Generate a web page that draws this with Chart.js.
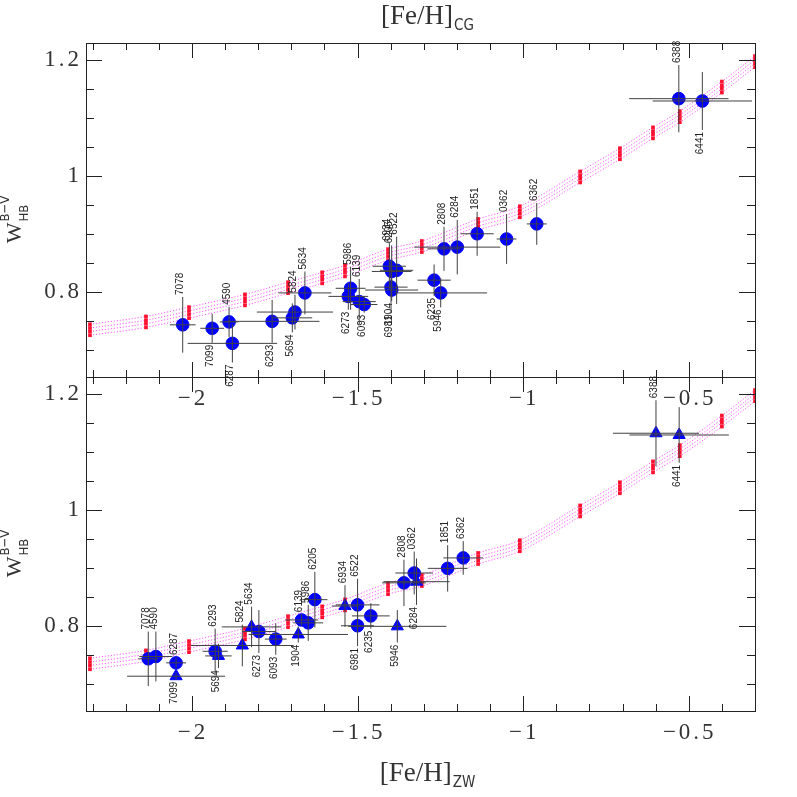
<!DOCTYPE html>
<html>
<head>
<meta charset="utf-8">
<script src="https://cdn.jsdelivr.net/npm/chart.js@4.4.1/dist/chart.umd.min.js"></script>
<style>
  html, body { margin: 0; padding: 0; background: #fff; }
  #wrap { position: relative; width: 797px; height: 797px; }
  #wrap canvas { position: absolute; left: 0; top: 0; }
</style>
</head>
<body>
<div id="wrap">
  <canvas id="lower" width="797" height="797"></canvas>
  <canvas id="upper" width="797" height="797"></canvas>
</div>
<script>
var clusters = ['7078', '7099', '4590', '6287', '6293', '5694', '5824', '5634', '6273', '5986', '6139', '6093', '6934',
  '6205', '6522', '6981', '1904', '6235', '5946', '2808', '6284', '1851', '0362', '6362', '6388', '6441'];

// upper panel, [Fe/H] on the CG scale
var fehCG = [-2.028, -1.939, -1.888, -1.878, -1.758, -1.697, -1.689, -1.659, -1.528, -1.521, -1.495, -1.480, -1.404,
  -1.397, -1.382, -1.399, -1.397, -1.269, -1.249, -1.239, -1.199, -1.139, -1.050, -0.959, -0.530, -0.459];
var whbCG = [0.743, 0.737, 0.748, 0.711, 0.749, 0.755, 0.765, 0.798, 0.792, 0.806, 0.783, 0.778, 0.844,
  0.835, 0.837, 0.808, 0.803, 0.820, 0.798, 0.874, 0.877, 0.900, 0.891, 0.917, 1.133, 1.129];
var errFehCG = [0.039, 0.036, 0.028, 0.135, 0.143, 0.06, 0.115, 0.08, 0.06, 0.045, 0.05, 0.04, 0.05,
  0.06, 0.05, 0.05, 0.08, 0.05, 0.14, 0.05, 0.13, 0.05, 0.03, 0.03, 0.15, 0.15];
var errWCG = [0.048, 0.025, 0.026, 0.033, 0.037, 0.025, 0.03, 0.037, 0.023, 0.037, 0.039, 0.014, 0.04,
  0.045, 0.058, 0.045, 0.019, 0.027, 0.025, 0.038, 0.047, 0.038, 0.043, 0.036, 0.058, 0.05];
var sideCG = [1, -1, 1, -1, -1, -1, 1, 1, -1, 1, 1, -1, 1, 1, 1, -1, -1, -1, -1, 1, 1, 1, 1, 1, 1, -1];

// lower panel, [Fe/H] on the ZW scale
var fehZW = [-2.132, -2.048, -2.109, -2.048, -1.930, -1.920, -1.848, -1.820, -1.798, -1.649, -1.669, -1.747, -1.538,
  -1.629, -1.500, -1.500, -1.679, -1.460, -1.380, -1.360, -1.322, -1.228, -1.329, -1.181, -0.599, -0.529];
var whbZW = [0.743, 0.713, 0.747, 0.736, 0.756, 0.748, 0.766, 0.798, 0.790, 0.805, 0.810, 0.777, 0.834,
  0.845, 0.836, 0.800, 0.785, 0.817, 0.799, 0.874, 0.876, 0.899, 0.891, 0.917, 1.132, 1.129];
var errFehZW = [0.03, 0.148, 0.05, 0.03, 0.038, 0.04, 0.155, 0.09, 0.05, 0.045, 0.05, 0.033, 0.04,
  0.038, 0.066, 0.05, 0.15, 0.057, 0.148, 0.066, 0.1, 0.06, 0.057, 0.06, 0.13, 0.15];
var errWZW = [0.047, 0.006, 0.043, 0.01, 0.039, 0.021, 0.036, 0.035, 0.037, 0.031, 0.01, 0.027, 0.036,
  0.048, 0.045, 0.035, 0.014, 0.022, 0.028, 0.04, 0.04, 0.04, 0.037, 0.029, 0.057, 0.048];
var sideZW = [1, -1, 1, 1, 1, -1, 1, 1, -1, 1, 1, -1, 1, 1, 1, -1, -1, -1, -1, 1, -1, 1, 1, 1, 1, -1];
var shapeZW = ['circle', 'triangle', 'circle', 'circle', 'circle', 'triangle', 'triangle', 'triangle', 'circle',
  'circle', 'circle', 'circle', 'triangle', 'circle', 'circle', 'circle', 'triangle', 'circle', 'triangle',
  'circle', 'triangle', 'circle', 'circle', 'circle', 'triangle', 'triangle'];

// model band (four dotted curves, red marks at the same abscissae)
var modelFeH = [-2.308, -2.139, -2.009, -1.840, -1.710, -1.607, -1.538, -1.408, -1.306, -1.136, -1.010,
  -0.828, -0.708, -0.608, -0.527, -0.400, -0.300];
var modelW1 = [0.7250, 0.7385, 0.7545, 0.7765, 0.7975, 0.8145, 0.8265, 0.8545, 0.8685, 0.9065, 0.9285,
  0.9885, 1.0285, 1.0645, 1.0925, 1.1435, 1.1875];
var modelW2 = [0.7315, 0.7450, 0.7610, 0.7830, 0.8040, 0.8210, 0.8330, 0.8610, 0.8750, 0.9130, 0.9350,
  0.9950, 1.0350, 1.0710, 1.0990, 1.1500, 1.1940];
var modelW3 = [0.7375, 0.7510, 0.7670, 0.7890, 0.8100, 0.8270, 0.8390, 0.8670, 0.8810, 0.9190, 0.9410,
  1.0010, 1.0410, 1.0770, 1.1050, 1.1560, 1.2000];
var modelW4 = [0.7440, 0.7575, 0.7735, 0.7955, 0.8165, 0.8335, 0.8455, 0.8735, 0.8875, 0.9255, 0.9475,
  1.0075, 1.0475, 1.0835, 1.1115, 1.1625, 1.2065];

var xTicks = [-2, -1.5, -1, -0.5];
var yTicks = [0.8, 1, 1.2];

var SERIF = '"Liberation Serif", "DejaVu Serif", serif';
var NARROW = '"Liberation Sans Narrow", "DejaVu Sans Condensed", "Liberation Sans", sans-serif';

function pairs(xs, ys) {
  return xs.map(function (x, i) { return {x: x, y: ys[i]}; });
}

function errorBars(xs, ys, ex, ey) {
  var pts = [];
  for (var i = 0; i < xs.length; i++) {
    pts.push({x: xs[i] - ex[i], y: ys[i]}, {x: xs[i] + ex[i], y: ys[i]}, {x: xs[i], y: null});
    pts.push({x: xs[i], y: ys[i] - ey[i]}, {x: xs[i], y: ys[i] + ey[i]}, {x: xs[i], y: null});
  }
  return pts;
}

function bandSet(ys) {
  return {
    data: pairs(modelFeH, ys),
    showLine: true,
    cubicInterpolationMode: 'monotone',
    borderColor: 'rgba(255, 60, 255, 0.85)',
    borderWidth: 1,
    borderDash: [1.2, 1.8],
    pointStyle: 'rect',
    pointRadius: 2.6,
    pointBorderWidth: 0,
    pointBackgroundColor: '#ff1030'
  };
}

function drawFeH(ctx, cx, base, sub) {
  ctx.save();
  ctx.fillStyle = '#333';
  ctx.textAlign = 'left';
  ctx.textBaseline = 'alphabetic';
  ctx.font = '27px ' + SERIF;
  var w1 = ctx.measureText('[Fe/H]').width;
  ctx.font = '15px ' + NARROW;
  var w2 = ctx.measureText(sub).width;
  var x0 = cx - (w1 + w2) / 2;
  ctx.font = '27px ' + SERIF;
  ctx.fillText('[Fe/H]', x0, base);
  ctx.font = '15px ' + NARROW;
  ctx.fillText(sub, x0 + w1 + 1, base + 6);
  ctx.restore();
}

function drawWhb(ctx, x, cy) {
  ctx.save();
  ctx.translate(x, cy);
  ctx.rotate(-Math.PI / 2);
  ctx.fillStyle = '#333';
  ctx.textAlign = 'left';
  ctx.textBaseline = 'alphabetic';
  ctx.font = '22px ' + SERIF;
  var wW = ctx.measureText('W').width;
  ctx.font = '13px ' + NARROW;
  var wS = Math.max(ctx.measureText('HB').width, ctx.measureText('B\u2212V').width);
  var x0 = -(wW + wS) / 2;
  ctx.font = '22px ' + SERIF;
  ctx.fillText('W', x0, 0);
  ctx.font = '13px ' + NARROW;
  ctx.fillText('HB', x0 + wW + 1, 7);
  ctx.fillText('B\u2212V', x0 + wW + 1, -12);
  ctx.restore();
}

// frame with inward ticks, tick labels and titles, SM style
var frameAxes = {
  id: 'frameAxes',
  afterDraw: function (chart, args, opts) {
    var ctx = chart.ctx, a = chart.chartArea;
    var sx = chart.scales.x, sy = chart.scales.y;
    ctx.save();
    ctx.strokeStyle = '#222';
    ctx.lineWidth = 1;
    ctx.strokeRect(Math.round(a.left) + 0.5, Math.round(a.top) + 0.5,
      Math.round(a.right - a.left), Math.round(a.bottom - a.top));
    ctx.beginPath();
    var k, px, len;
    for (k = -23; k <= -3; k++) {
      px = Math.round(sx.getPixelForValue(k / 10)) + 0.5;
      len = (k % 5 === 0) ? 15 : 7;
      ctx.moveTo(px, a.top); ctx.lineTo(px, a.top + len);
      ctx.moveTo(px, a.bottom); ctx.lineTo(px, a.bottom - len);
    }
    for (k = 14; k <= 24; k++) {
      px = Math.round(sy.getPixelForValue(k * 0.05)) + 0.5;
      len = (k % 4 === 0) ? 16 : 8;
      ctx.moveTo(a.left, px); ctx.lineTo(a.left + len, px);
      ctx.moveTo(a.right, px); ctx.lineTo(a.right - len, px);
    }
    ctx.stroke();

    ctx.fillStyle = '#333';
    ctx.font = '23px ' + SERIF;
    if ('letterSpacing' in ctx) ctx.letterSpacing = '3px';
    ctx.textBaseline = 'middle';
    ctx.textAlign = 'right';
    yTicks.forEach(function (v) {
      ctx.fillText(String(v), a.left - 4, sy.getPixelForValue(v));
    });
    ctx.textAlign = 'center';
    xTicks.forEach(function (v) {
      ctx.fillText(String(v).replace('-', '\u2212'), sx.getPixelForValue(v) + 1, a.bottom + 22);
    });
    if ('letterSpacing' in ctx) ctx.letterSpacing = '0px';
    ctx.restore();

    drawWhb(ctx, 21, (a.top + a.bottom) / 2 + 10);
    if (opts.title) drawFeH(ctx, opts.titleX, opts.titleY, opts.title);
  }
};

function idLabels(xs, ys, ey, side) {
  return {
    id: 'idLabels',
    afterDatasetsDraw: function (chart) {
      var ctx = chart.ctx, sx = chart.scales.x, sy = chart.scales.y;
      ctx.save();
      ctx.font = '10px "Liberation Sans", Arial, sans-serif';
      ctx.fillStyle = '#222';
      ctx.textBaseline = 'middle';
      for (var i = 0; i < xs.length; i++) {
        var px = sx.getPixelForValue(xs[i]) - 2;
        var end = sy.getPixelForValue(ys[i] + side[i] * ey[i]);
        ctx.save();
        ctx.translate(px, end - side[i] * 2);
        ctx.rotate(-Math.PI / 2);
        ctx.textAlign = side[i] > 0 ? 'left' : 'right';
        ctx.fillText(clusters[i], 0, 0);
        ctx.restore();
      }
      ctx.restore();
    }
  };
}

function makePanel(id, xs, ys, ex, ey, side, shapes, padding, frameOpts) {
  return new Chart(document.getElementById(id), {
    type: 'scatter',
    data: {
      datasets: [
        {
          data: errorBars(xs, ys, ex, ey),
          showLine: true,
          spanGaps: false,
          borderColor: '#404040',
          borderWidth: 1,
          pointRadius: 0
        },
        {
          data: pairs(xs, ys),
          pointStyle: shapes,
          pointRadius: shapes.map(function (s) { return s === 'triangle' ? 7 : 6.3; }),
          backgroundColor: '#0000ff',
          borderColor: '#0000ff',
          borderWidth: 1
        },
        bandSet(modelW1),
        bandSet(modelW2),
        bandSet(modelW3),
        bandSet(modelW4)
      ]
    },
    options: {
      responsive: false,
      animation: false,
      events: [],
      layout: {padding: padding},
      plugins: {
        legend: {display: false},
        tooltip: {enabled: false},
        frameAxes: frameOpts
      },
      scales: {
        x: {type: 'linear', min: -2.32, max: -0.3, display: false},
        y: {type: 'linear', min: 0.653, max: 1.229, display: false}
      }
    },
    plugins: [frameAxes, idLabels(xs, ys, ey, side)]
  });
}

makePanel('lower', fehZW, whbZW, errFehZW, errWZW, sideZW, shapeZW,
  {left: 86, right: 42, top: 377, bottom: 86},
  {title: 'ZW', titleX: 427, titleY: 781});
makePanel('upper', fehCG, whbCG, errFehCG, errWCG, sideCG, clusters.map(function () { return 'circle'; }),
  {left: 86, right: 42, top: 43, bottom: 420},
  {title: 'CG', titleX: 427, titleY: 24});
</script>
</body>
</html>
